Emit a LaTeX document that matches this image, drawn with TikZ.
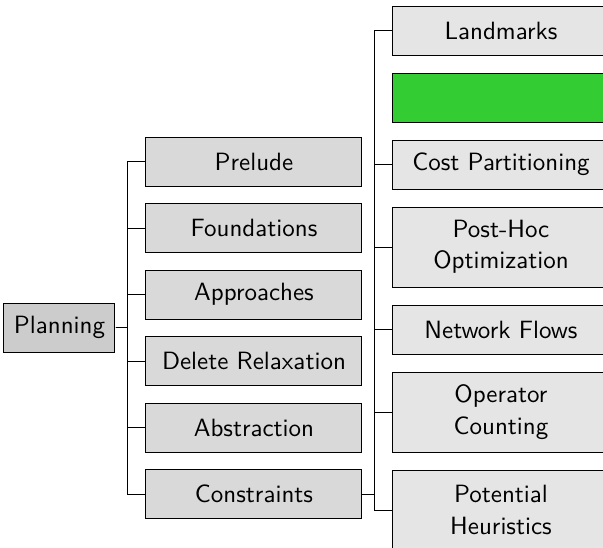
\documentclass[tikz,border=0pt]{standalone}
\usetikzlibrary{positioning}
\definecolor{lvlone}{gray}{0.80}
\definecolor{lvltwo}{gray}{0.85}
\definecolor{lvlthree}{gray}{0.90}
\definecolor{hlgreen}{rgb}{0.2,0.8,0.2}
\tikzset{
  box/.style={draw=black, line width=0.4pt, rectangle, inner sep=0pt, align=center,
    font=\sffamily\fontsize{10}{12.5}\selectfont, minimum width=86.4pt, minimum height=19.6pt},
  rootbox/.style={box, fill=lvlone, minimum width=44.4pt},
  midbox/.style={box, fill=lvltwo},
  leafbox/.style={box, fill=lvlthree},
  tallbox/.style={leafbox, minimum height=32pt},
  greenbox/.style={box, fill=hlgreen},
  conn/.style={draw=black, line width=0.4pt},
}
\begin{document}
\begin{tikzpicture}[x=0.4pt, y=-0.4pt]
\useasboundingbox (0,0) rectangle (603,548);
\clip (0,0) rectangle (603,548);
% root
\node[rootbox] (planning) at (59.5,327.75) {Planning};
% level two
\node[midbox] (prelude) at (254,161.5) {Prelude};
\node[midbox] (found) at (254,228) {Foundations};
\node[midbox] (appr) at (254,294.5) {Approaches};
\node[midbox] (delrel) at (254,361) {Delete Relaxation};
\node[midbox] (abstr) at (254,427.5) {Abstraction};
\node[midbox] (constr) at (254,494) {Constraints};
% level three
\node[leafbox] (landm) at (501,30.5) {Landmarks};
\node[greenbox] (green) at (501,97.5) {};
\node[leafbox] (costp) at (501,164.5) {Cost Partitioning};
\node[tallbox] (posthoc) at (501,247) {Post-Hoc\\Optimization};
\node[leafbox] (netfl) at (501,329.5) {Network Flows};
\node[tallbox] (opcount) at (501,412) {Operator\\Counting};
\node[tallbox] (potent) at (501,510) {Potential\\Heuristics};
% junctions
\coordinate (ja) at (128,327.75);
\coordinate (jb) at (375,494);
% connectors level two
\foreach \c in {prelude,found,appr,delrel,abstr,constr}
  \draw[conn] (planning.east) -- (ja) |- (\c.west);
% connectors level three
\foreach \c in {landm,costp,posthoc,netfl,opcount,potent}
  \draw[conn] (constr.east) -- (jb) |- (\c.west);
\end{tikzpicture}
\end{document}
